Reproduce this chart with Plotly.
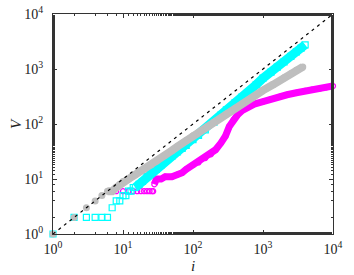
import plotly.graph_objects as go

# ---- data ----
gray_i = [1, 2, 3, 4, 5, 6, 7, 8, 9, 10, 12, 15, 20, 25, 30, 40, 50, 60, 80, 100,
          130, 160, 200, 250, 300, 400, 500, 700, 1000, 1400, 2000, 2500, 3000, 3700]
gray_v = [1, 2, 3, 4, 5, 6, 6, 7, 8, 9, 10, 12, 15, 18, 21, 27, 33, 39, 50, 61,
          76, 90, 108, 130, 152, 192, 232, 300, 410, 520, 690, 820, 950, 1090]

cyan_i = [1, 2, 3, 4, 5, 6, 7, 8, 9, 10, 11, 12, 13, 14, 15, 17, 19, 22, 25, 30,
          35, 40, 50, 60, 70, 80, 100, 120, 150, 200, 250, 300, 400, 500, 600,
          800, 1000, 1300, 1600, 2000, 2500, 3000, 3500, 4000]
cyan_v = [1, 2, 2, 2, 2, 2, 3, 4, 4, 5, 5, 6, 6, 7, 7, 8, 9, 11, 13, 15,
          18, 21, 26, 31, 36, 41, 52, 62, 78, 108, 145, 180, 245, 310, 370,
          520, 680, 880, 1080, 1350, 1700, 2050, 2400, 2750]

mag_i = [8, 10, 12, 14, 16, 18, 20, 22, 24, 26, 27, 28, 30, 35,
         40, 50, 60, 70, 80, 100, 120, 150, 180, 210, 250, 290, 330, 380, 430,
         500, 600, 750, 1000, 1300, 1750, 2200, 3000, 4000, 5000, 6500, 8000, 10000]
mag_v = [6, 6, 6, 6, 6, 6, 6, 6, 6, 6, 6, 8, 10, 10,
         11, 11, 12, 13, 15, 18, 20, 24, 28, 34, 45, 60, 90, 120, 145,
         175, 205, 230, 255, 285, 315, 340, 370, 400, 420, 440, 465, 490]

diag = [1, 10000]

GRAY = "#bebebe"
CYAN = "#00ffff"
MAG = "#ff00ff"
FONT = "Liberation Serif"

fig = go.Figure()

# magenta (bottom)
fig.add_trace(go.Scatter(x=[i for i in mag_i if i >= 28], y=mag_v[mag_i.index(28):],
                         mode="lines", line=dict(color=MAG, width=7), cliponaxis=False))
fig.add_trace(go.Scatter(x=mag_i, y=mag_v, mode="markers", cliponaxis=False,
                         marker=dict(symbol="circle-open", size=5, color=MAG,
                                     line=dict(width=1.2, color=MAG))))

# cyan
fig.add_trace(go.Scatter(x=[i for i in cyan_i if i >= 15], y=cyan_v[cyan_i.index(15):],
                         mode="lines", line=dict(color=CYAN, width=9), cliponaxis=False))
fig.add_trace(go.Scatter(x=cyan_i, y=cyan_v, mode="markers", cliponaxis=False,
                         marker=dict(symbol="square-open", size=6, color=CYAN,
                                     line=dict(width=1.2, color=CYAN))))

# gray
fig.add_trace(go.Scatter(x=[i for i in gray_i if i >= 6], y=gray_v[gray_i.index(6):],
                         mode="lines", line=dict(color=GRAY, width=8), cliponaxis=False))
fig.add_trace(go.Scatter(x=gray_i, y=gray_v, mode="markers", cliponaxis=False,
                         marker=dict(symbol="circle", size=7, color=GRAY)))

# y = x reference
fig.add_trace(go.Scatter(x=diag, y=diag, mode="lines",
                         line=dict(color="black", width=1.2, dash="3px,4px")))

# invisible trace so the mirrored top/right axes get drawn
fig.add_trace(go.Scatter(x=diag, y=diag, mode="lines", xaxis="x2", yaxis="y2",
                         line=dict(width=0), hoverinfo="skip"))

ticks = [1, 10, 100, 1000, 10000]
labels = ["10<sup>%d</sup>" % k for k in range(5)]

axis = dict(
    type="log",
    range=[0, 4],
    tickvals=ticks,
    ticktext=labels,
    ticks="inside",
    ticklen=4,
    tickcolor="#333",
    showline=True,
    linecolor="#333",
    linewidth=1,
    showgrid=False,
    zeroline=False,
    automargin=False,
    tickfont=dict(family=FONT, size=14, color="#222"),
    minor=dict(ticks="inside", ticklen=2, tickcolor="#333", showgrid=False),
)

fig.update_layout(
    width=354,
    height=275,
    margin=dict(l=53, r=21, t=14, b=41),
    paper_bgcolor="white",
    plot_bgcolor="white",
    showlegend=False,
    xaxis=dict(axis, ticklabelstandoff=2),
    yaxis=dict(axis, ticklabelstandoff=6),
    xaxis2=dict(axis, overlaying="x", side="top", anchor="y", showticklabels=False),
    yaxis2=dict(axis, overlaying="y", side="right", anchor="x", showticklabels=False),
    annotations=[
        dict(text="<i>i</i>", x=0.5, y=-0.145, xref="paper", yref="paper",
             xanchor="center", yanchor="middle", showarrow=False, borderpad=0,
             font=dict(family=FONT, size=15, color="#222")),
        dict(text="<i>V</i>", x=-0.132, y=0.5, xref="paper", yref="paper",
             xanchor="center", yanchor="middle", showarrow=False, textangle=-90,
             font=dict(family=FONT, size=15, color="#222")),
    ],
)

# drop the browser's default body margin so the figure sits at the page corner
fig.write_html("out.html", config={"displayModeBar": False},
               post_script="document.body.style.margin='0';")
